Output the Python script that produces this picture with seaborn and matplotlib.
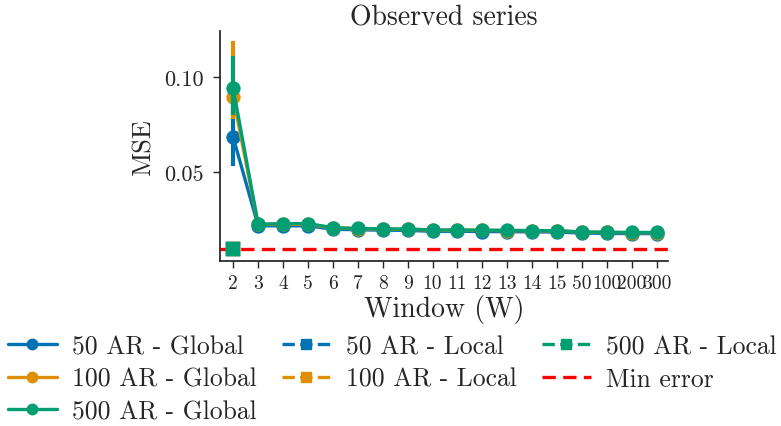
import matplotlib
matplotlib.use("Agg")
import matplotlib.pyplot as plt
import numpy as np
import pandas as pd
import seaborn as sns

# Window sizes (categorical x axis)
windows = ["2", "3", "4", "5", "6", "7", "8", "9", "10", "11", "12", "13",
           "14", "15", "50", "100", "200", "300"]

# Mean MSE per window for the global models
mse_50_global = [0.0683, 0.0218, 0.0218, 0.0218, 0.0200, 0.0197, 0.0195, 0.0194, 0.0189,
                 0.0189, 0.0188, 0.0187, 0.0186, 0.0185, 0.0180, 0.0178, 0.0177, 0.0177]
mse_100_global = [0.0893, 0.0225, 0.0226, 0.0226, 0.0207, 0.0203, 0.0201, 0.0200, 0.0195,
                  0.0195, 0.0194, 0.0193, 0.0192, 0.0191, 0.0185, 0.0183, 0.0182, 0.0182]
mse_500_global = [0.0940, 0.0227, 0.0229, 0.0230, 0.0208, 0.0204, 0.0202, 0.0201, 0.0196,
                  0.0196, 0.0195, 0.0194, 0.0193, 0.0192, 0.0186, 0.0184, 0.0183, 0.0183]

# Interval at W=2 for the global models (lower, upper)
err_50_global = (0.0533, 0.0833)
err_100_global = (0.0780, 0.1190)
err_500_global = (0.0800, 0.1110)

# Local models are only evaluated at W=2
local_window = ["2"]
mse_50_local = [0.0098]
mse_100_local = [0.0098]
mse_500_local = [0.0098]

min_error = 0.0098

sns.set_theme(style="ticks")
plt.rcParams["font.family"] = ["cmr10"]
plt.rcParams["axes.formatter.use_mathtext"] = True
plt.rcParams["mathtext.fontset"] = "cm"

pal = sns.color_palette("colorblind")
c50, c100, c500 = pal[0], pal[1], pal[2]

fig = plt.figure(figsize=(7.81, 4.27), dpi=100)
ax = fig.add_axes([0.282, 0.386, 0.573, 0.539])

lw = 2.4
ms = 8.5

glob = [("50 AR - Global", mse_50_global, err_50_global, c50),
        ("100 AR - Global", mse_100_global, err_100_global, c100),
        ("500 AR - Global", mse_500_global, err_500_global, c500)]
loc = [("50 AR - Local", mse_50_local, c50),
       ("100 AR - Local", mse_100_local, c100),
       ("500 AR - Local", mse_500_local, c500)]

handles = []
for label, vals, err, col in glob:
    df = pd.DataFrame({"W": windows, "MSE": vals})
    sns.pointplot(data=df, x="W", y="MSE", order=windows, color=col, markers="o",
                  linestyles="-", errorbar=None, linewidth=lw, markersize=ms, ax=ax)
    handles.append(plt.Line2D([], [], color=col, marker="o", ls="-", lw=lw,
                              markersize=ms - 1, label=label))

for label, vals, col in loc:
    df = pd.DataFrame({"W": local_window, "MSE": vals})
    sns.pointplot(data=df, x="W", y="MSE", order=windows, color=col, markers="s",
                  linestyles="--", errorbar=None, linewidth=lw, markersize=ms, ax=ax)
    handles.append(plt.Line2D([], [], color=col, marker="s", ls="--", lw=lw,
                              markersize=ms - 1, label=label))

# Interval bars at W=2, stacked in the same order as the lines
x2 = windows.index("2")
for i, (label, vals, err, col) in enumerate(glob):
    ax.plot([x2, x2], [err[0], err[1]], color=col, lw=lw + 0.6, ls="-",
            solid_capstyle="butt", zorder=2.1 + 0.3 * i)

ax.axhline(min_error, color="red", ls="--", lw=lw, dashes=(4, 2.2), zorder=1.5)
handles.append(plt.Line2D([], [], color="red", ls="--", lw=lw, dashes=(4, 2.2),
                          label="Min error"))

ax.set_ylim(0.0032, 0.1242)
ax.set_xlim(-0.52, len(windows) - 0.56)
ax.set_yticks([0.05, 0.10])
ax.set_yticklabels(["0.05", "0.10"])
ax.tick_params(axis="y", labelsize=16, length=5, width=1, pad=7)
ax.tick_params(axis="x", labelsize=14, length=5, width=1, pad=4)
ax.set_xlabel("Window (W)", fontsize=20, labelpad=2)
ax.set_ylabel("MSE", fontsize=19, labelpad=6)
ax.set_title("Observed series", fontsize=20, pad=5)
for s in ax.spines.values():
    s.set_color("#222222")
sns.despine(ax=ax)

fig.legend(handles=handles, loc="upper left", bbox_to_anchor=(0.0, 0.232), ncol=3,
           frameon=False, fontsize=18.5, handlelength=1.9, columnspacing=0.98,
           labelspacing=0.34, handletextpad=0.6, borderaxespad=0.0, borderpad=0.3)

fig.savefig("out.png", dpi=100)
